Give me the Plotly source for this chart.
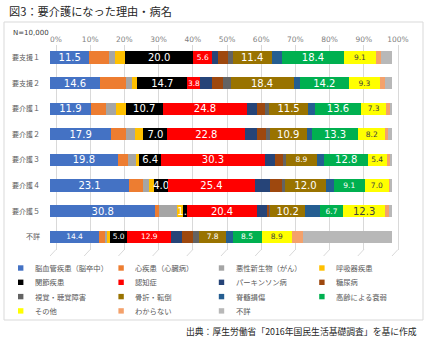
import plotly.graph_objects as go

W, H = 426, 343

categories = ["要支援１", "要支援２", "要介護１", "要介護２", "要介護３", "要介護４", "要介護５", "不詳"]

series_names = [
    "脳血管疾患（脳卒中）", "心疾患（心臓病）", "悪性新生物（がん）", "呼吸器疾患",
    "関節疾患", "認知症", "パーキンソン病", "糖尿病",
    "視覚・聴覚障害", "骨折・転倒", "脊髄損傷", "高齢による衰弱",
    "その他", "わからない", "不詳",
]

series_colors = [
    "#4472C4", "#ED7D31", "#A5A5A5", "#FFC000",
    "#000000", "#FF0000", "#264478", "#9E480E",
    "#636363", "#997300", "#255E91", "#00B050",
    "#FFFF00", "#F4A16B", "#B8B8B8",
]

# values per category (rows) in series order
v_shien1 = [11.5, 5.8, 1.7, 2.9, 20.0, 5.6, 1.5, 2.9, 1.5, 11.4, 2.9, 18.4, 9.1, 1.5, 3.3]
v_shien2 = [14.6, 7.6, 1.9, 1.4, 14.7, 3.8, 3.3, 3.4, 2.1, 18.4, 1.9, 14.2, 9.3, 1.3, 2.1]
v_kaigo1 = [11.9, 4.5, 2.9, 2.9, 10.7, 24.8, 2.7, 2.4, 1.2, 11.5, 1.9, 13.6, 7.3, 1.1, 0.6]
v_kaigo2 = [17.9, 4.4, 2.6, 2.4, 7.0, 22.8, 3.4, 2.7, 1.0, 10.9, 1.6, 13.3, 8.2, 0.5, 1.3]
v_kaigo3 = [19.8, 3.1, 2.2, 1.0, 6.4, 30.3, 3.1, 2.1, 1.1, 8.9, 2.2, 12.8, 5.4, 1.2, 0.4]
v_kaigo4 = [23.1, 4.2, 1.5, 1.7, 4.0, 25.4, 4.4, 3.4, 1.0, 12.0, 2.3, 9.1, 7.0, 0.6, 0.3]
v_kaigo5 = [30.8, 1.0, 5.2, 2.0, 1.1, 20.4, 3.1, 0.5, 0.3, 10.2, 4.4, 6.7, 12.3, 1.0, 1.0]
v_fusho = [14.4, 1.9, 0.5, 0.8, 5.0, 12.9, 3.2, 3.1, 1.9, 7.8, 1.9, 8.5, 8.9, 3.2, 26.0]

rows = [v_shien1, v_shien2, v_kaigo1, v_kaigo2, v_kaigo3, v_kaigo4, v_kaigo5, v_fusho]

labeled_series = ["脳血管疾患（脳卒中）", "関節疾患", "認知症", "骨折・転倒", "高齢による衰弱", "その他"]

tick_vals = [0, 10, 20, 30, 40, 50, 60, 70, 80, 90, 100]
tick_text = ["0%", "10%", "20%", "30%", "40%", "50%", "60%", "70%", "80%", "90%", "100%"]


def px(x):
    return x / W


def py(y):
    return 1 - y / H


FONT = "DejaVu Sans, Noto Sans CJK JP, sans-serif"
JFONT = "Noto Sans CJK JP, sans-serif"

fig = go.Figure()

for si, name in enumerate(series_names):
    vals = [r[si] for r in rows]
    show = name in labeled_series
    sizes = []
    for ci, v in enumerate(vals):
        big = (v >= 10 or name == "関節疾患") and categories[ci] != "不詳"
        sizes.append(10 if big else 7.5)
    fig.add_trace(go.Bar(
        x=vals, y=categories, orientation="h", name=name,
        marker=dict(color=series_colors[si], line=dict(width=0)),
        width=0.48,
        texttemplate="%{x:.1f}" if show else None,
        textposition="inside" if show else "none",
        insidetextanchor="middle",
        constraintext="none",
        textangle=0,
        textfont=dict(family=FONT, size=sizes,
                      color="#404040" if series_colors[si] == "#FFFF00" else "white"),
        showlegend=False, hoverinfo="x+name",
    ))

# dummy trace for the gridline/tick axis
fig.add_trace(go.Scatter(x=[None], y=[None], xaxis="x2", yaxis="y",
                         showlegend=False, hoverinfo="skip"))

x0_bar, x100_bar = 50, 392
scale = (x100_bar - x0_bar) / 100.0
dom_l, dom_r = 50, 400
grid_shift = 6  # 3D back-wall offset in px

fig.update_layout(
    width=W, height=H, template="none",
    margin=dict(l=0, r=0, t=0, b=0),
    paper_bgcolor="white", plot_bgcolor="rgba(0,0,0,0)",
    barmode="stack", bargap=0.5,
    showlegend=False,
    xaxis=dict(domain=[px(dom_l), px(dom_r)],
               range=[(dom_l - x0_bar) / scale, (dom_r - x0_bar) / scale],
               showgrid=False, showticklabels=False, zeroline=False,
               showline=False, ticks="", automargin=False),
    xaxis2=dict(overlaying="x", anchor="y", side="top",
                range=[(dom_l - x0_bar - grid_shift) / scale, (dom_r - x0_bar - grid_shift) / scale],
                tickvals=tick_vals, ticktext=tick_text,
                showgrid=True, gridcolor="#D9D9D9", gridwidth=1,
                zeroline=False, showline=False, ticks="",
                tickfont=dict(family=FONT, size=7.5, color="#7F7F7F"),
                automargin=False),
    yaxis=dict(domain=[py(249.5), py(44.7)], range=[7.5, -0.5],
               type="category", showgrid=False, zeroline=False, showline=False,
               ticks="", ticklabelstandoff=9,
               tickfont=dict(family=JFONT, size=7, color="#595959"),
               automargin=False),
    font=dict(family=JFONT),
)

shapes = []
# outer border
shapes.append(dict(type="rect", xref="paper", yref="paper",
                   x0=px(4), x1=px(423), y0=py(320), y1=py(22),
                   line=dict(color="#D9D9D9", width=1), fillcolor="rgba(0,0,0,0)", layer="below"))
# 3D floor slants under gridlines
for t in tick_vals:
    shapes.append(dict(type="line", xref="x2", yref="paper",
                       x0=t, y0=py(249.5), x1=t - grid_shift / scale, y1=py(256),
                       line=dict(color="#D9D9D9", width=1), layer="below"))

annotations = []
annotations.append(dict(text="図3：要介護になった理由・病名", xref="paper", yref="paper",
                        x=px(7), y=py(11), xanchor="left", yanchor="middle", showarrow=False,
                        font=dict(family=JFONT, size=11.2, color="#262626")))
annotations.append(dict(text="N=10,000", xref="paper", yref="paper",
                        x=px(11), y=py(33), xanchor="left", yanchor="middle", showarrow=False,
                        font=dict(family=FONT, size=7, color="#404040")))
annotations.append(dict(text="出典：厚生労働省「2016年国民生活基礎調査」を基に作成",
                        xref="paper", yref="paper", x=px(419), y=py(331),
                        xanchor="right", yanchor="middle", showarrow=False,
                        font=dict(family=JFONT, size=8.8, color="#262626")))

# manual legend (4 columns, row-wise)
for i, name in enumerate(series_names):
    r, c = divmod(i, 4)
    cx = 20.7 + c * 100.4
    cy = 268 + r * 14.3
    shapes.append(dict(type="rect", xref="paper", yref="paper",
                       x0=px(cx - 2.7), x1=px(cx + 2.7), y0=py(cy + 2.7), y1=py(cy - 2.7),
                       fillcolor=series_colors[i], line=dict(width=0)))
    annotations.append(dict(text=name, xref="paper", yref="paper",
                            x=px(cx + 12), y=py(cy), xanchor="left", yanchor="middle",
                            showarrow=False,
                            font=dict(family=JFONT, size=7.3, color="#595959")))

fig.update_layout(shapes=shapes, annotations=annotations)

fig.write_html("out.html")
